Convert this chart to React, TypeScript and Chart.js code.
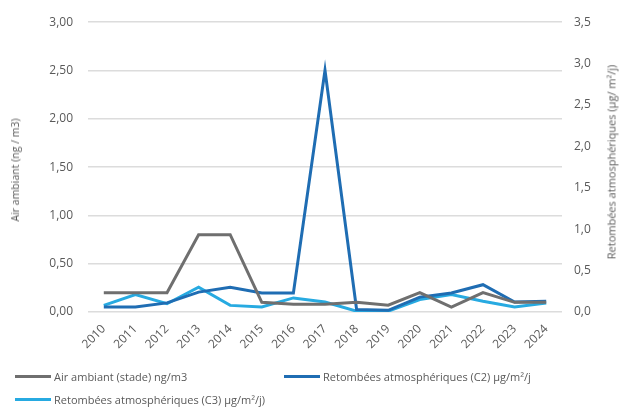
import React, { useEffect, useRef } from "react";
import { Chart, registerables } from "chart.js";

Chart.register(...registerables);

const years = ["2010","2011","2012","2013","2014","2015","2016","2017","2018","2019","2020","2021","2022","2023","2024"];
const airAmbiant = [0.20,0.20,0.20,0.80,0.80,0.10,0.08,0.08,0.10,0.07,0.20,0.05,0.20,0.10,0.10];
const retombeesC2 = [0.06,0.06,0.11,0.24,0.30,0.23,0.23,2.92,0.03,0.02,0.18,0.23,0.33,0.12,0.13];
const retombeesC3 = [0.08,0.21,0.10,0.30,0.08,0.06,0.17,0.12,0.01,0.01,0.15,0.21,0.13,0.06,0.11];

const labelsLegend = [
  "Air ambiant (stade) ng/m3",
  "Retombées atmosphériques (C2) µg/m²/j",
  "Retombées atmosphériques (C3) µg/m²/j)",
];
const leftTitle = "Air ambiant (ng / m3)";
const rightTitle = "Retombées atmosphériques (µg/ m²/j)";
const colors = ["#6f6f6f", "#1f6db3", "#27aae1"];
const FONT = "'Open Sans', 'DejaVu Sans', sans-serif";
const TXT = "#595959";

export default function App() {
  const ref = useRef<HTMLCanvasElement>(null);
  useEffect(() => {
    document.body.style.margin = "0";
    const chart = new Chart(ref.current!, {
      type: "line",
      data: {
        labels: years,
        datasets: [
          { label: labelsLegend[0], data: airAmbiant, borderColor: colors[0], backgroundColor: colors[0], yAxisID: "y", borderWidth: 3, pointRadius: 0, tension: 0 },
          { label: labelsLegend[1], data: retombeesC2, borderColor: colors[1], backgroundColor: colors[1], yAxisID: "y1", borderWidth: 3, pointRadius: 0, tension: 0 },
          { label: labelsLegend[2], data: retombeesC3, borderColor: colors[2], backgroundColor: colors[2], yAxisID: "y1", borderWidth: 3, pointRadius: 0, tension: 0 },
        ],
      },
      options: {
        animation: false,
        responsive: false,
        layout: { padding: { top: 19, bottom: 45, left: 0, right: 0 } },
        plugins: { legend: { display: false }, tooltip: { enabled: false } },
        scales: {
          x: {
            offset: true,
            grid: { display: false },
            border: { display: false },
            ticks: { color: TXT, font: { family: FONT, size: 12 }, minRotation: 45, maxRotation: 45, padding: 2 },
            afterFit: (s: any) => { s.height = 50; },
          },
          y: {
            position: "left",
            min: 0, max: 3,
            grid: { color: "#dcdcdc", lineWidth: 1.5, drawTicks: false },
            border: { display: false },
            ticks: { stepSize: 0.5, color: TXT, padding: 15, font: { family: FONT, size: 12 }, callback: (v: any) => Number(v).toFixed(2).replace(".", ",") },
            afterFit: (s: any) => { s.width = 88; },
          },
          y1: {
            position: "right",
            min: 0, max: 3.5,
            grid: { display: false, drawTicks: false },
            border: { display: false },
            ticks: { stepSize: 0.5, color: TXT, padding: 12, font: { family: FONT, size: 12 }, callback: (v: any) => Number(v).toFixed(1).replace(".", ",") },
            afterFit: (s: any) => { s.width = 58; },
          },
        },
      },
    });
    return () => chart.destroy();
  }, []);

  const item = (i: number, left: number, top: number) => (
    <div style={{ position: "absolute", left, top, display: "flex", alignItems: "center", fontFamily: FONT, fontSize: 11, color: TXT, whiteSpace: "nowrap" }}>
      <span style={{ display: "inline-block", width: 36, height: 3, background: colors[i], marginRight: 3 }} />
      {labelsLegend[i]}
    </div>
  );

  const vtitle = (text: string, cx: number, cy: number, size: number) => (
    <div style={{ position: "absolute", left: cx, top: cy, transform: "translate(-50%, -50%) rotate(-90deg)", fontFamily: FONT, fontSize: size, color: TXT, whiteSpace: "nowrap" }}>
      {text}
    </div>
  );

  return (
    <div style={{ position: "fixed", left: 0, top: 0, width: 620, height: 407, background: "#fff", overflow: "hidden" }}>
      <canvas ref={ref} width={620} height={407} />
      {vtitle(leftTitle, 15, 170, 10.5)}
      {vtitle(rightTitle, 611, 162, 11)}
      {item(0, 15, 369)}
      {item(1, 284, 369)}
      {item(2, 15, 392)}
    </div>
  );
}
